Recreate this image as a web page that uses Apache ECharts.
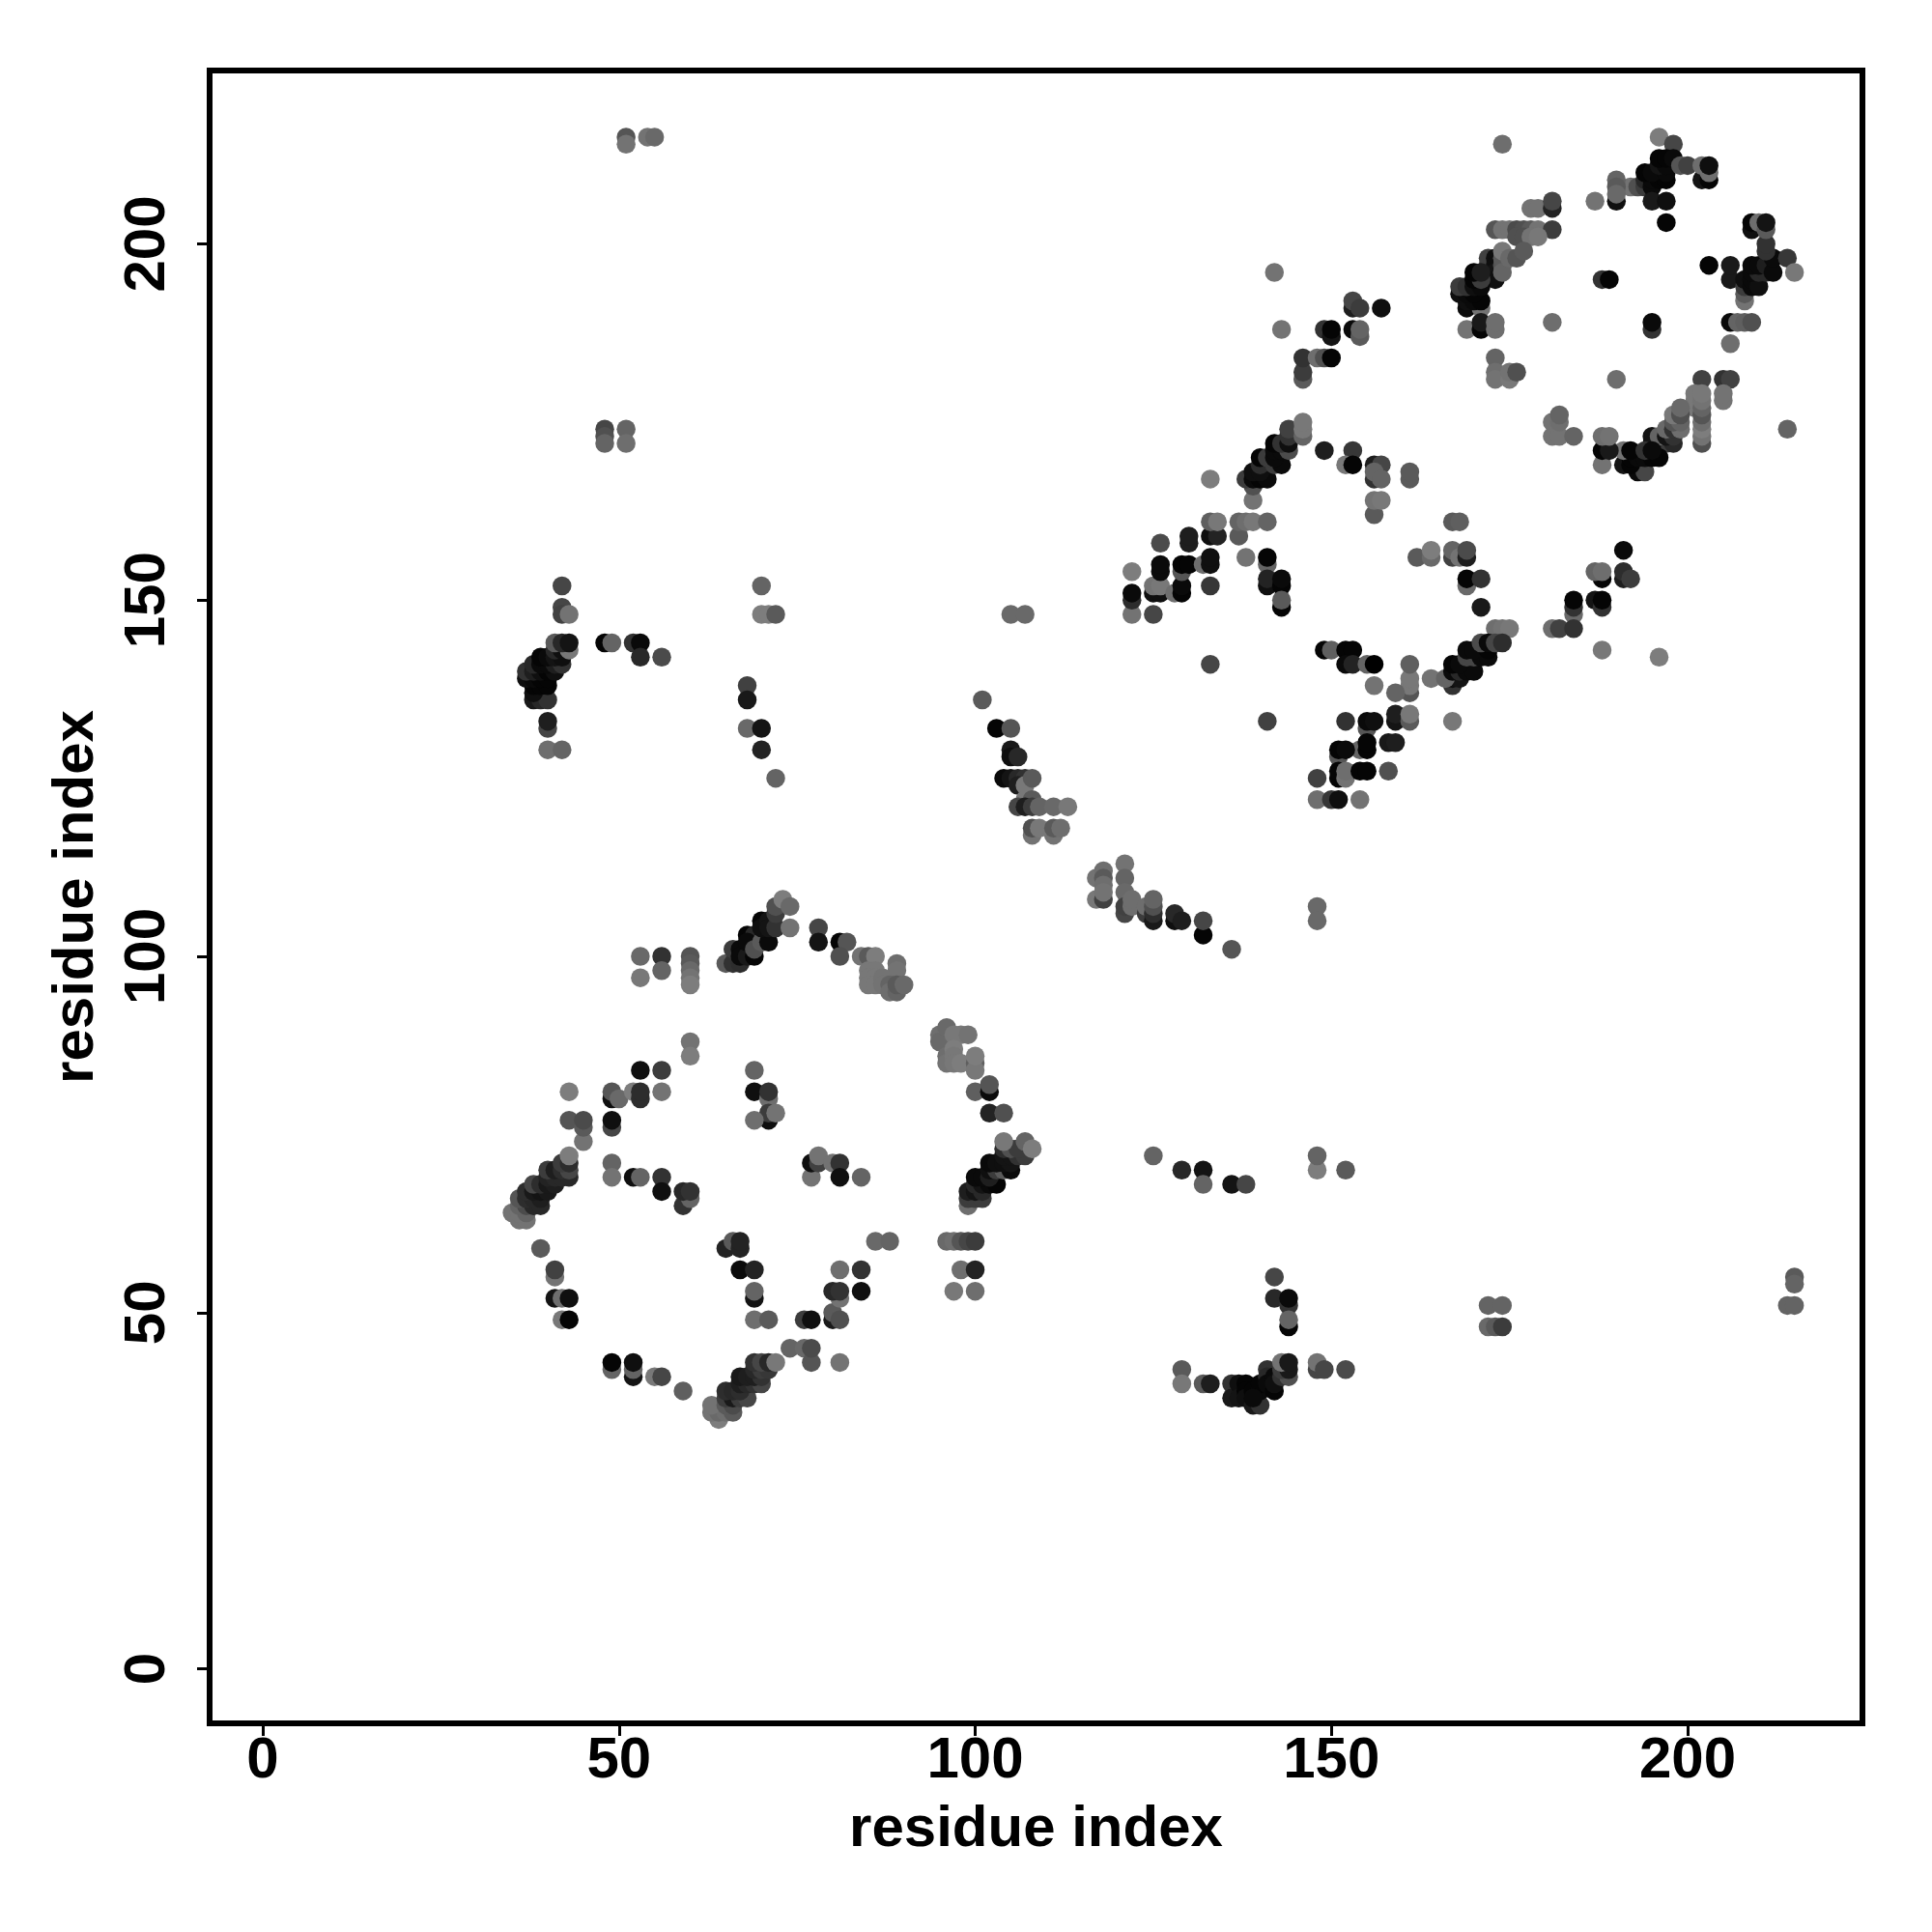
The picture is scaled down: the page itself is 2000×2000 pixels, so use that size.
<!DOCTYPE html>
<html><head><meta charset="utf-8">
<style>html,body{margin:0;padding:0;background:#fff}#c{width:2000px;height:2000px}</style>
<script src="https://cdn.jsdelivr.net/npm/echarts@6/dist/echarts.min.js"></script>
</head><body><div id="c"></div>
<script>
const tickValues = [0, 50, 100, 150, 200];
const axisName = 'residue index';
// every contact: [residue x, residue y, grey level]
const farContacts = [[51,215,85],[51,214,115],[54,215,115],[55,215,105],[48,174,70],[48,173,80],[48,172,100],[51,174,100],[51,172,110],
 [172,51,100],[174,51,100],[172,48,105],[173,48,90],[174,48,60],[215,55,90],[215,54,100],[214,51,100],[215,51,100],
 [188,143,120],[196,142,125],[174,214,110],[142,196,115],[143,188,115],[133,141,70],[148,107,105],[148,105,105]];
const leftArc = [[42,152,70],[70,152,100],[42,149,70],[42,148,65],[43,148,115],[70,148,125],[71,148,125],[72,148,90],
 [38,136,25],[39,136,40],[40,136,50],[38,137,15],[38,138,5],[39,138,5],[40,138,5],[37,139,15],[38,139,10],[39,139,5],[40,139,5],
 [37,140,50],[38,140,30],[39,140,15],[40,140,5],[41,140,15],[38,141,40],[39,141,10],[40,141,10],[41,141,30],[42,141,50],
 [40,132,70],[40,133,30],[40,129,110],[42,129,100],
 [39,142,5],[40,142,10],[41,142,20],[42,142,15],[41,143,40],[42,143,15],[43,143,120],[41,144,90],[42,144,40],[43,144,20],
 [48,144,5],[49,144,100],[52,144,50],[53,144,10],[53,142,40],[56,142,75],
 [68,138,65],[68,136,25],[68,132,105],[70,132,20],[70,129,35],[72,125,100]];
const upperRidge = [[65,99,90],[66,99,50],[67,99,45],[66,101,60],[67,101,10],[67,100,10],[68,100,25],[69,100,5],[68,103,5],[69,103,40],[68,102,10],[69,101,80],
 [70,102,90],[71,102,10],[70,105,5],[70,104,15],[71,105,20],[71,104,20],[72,104,50],[72,106,60],[72,107,80],[74,104,115],[73,108,125],[74,107,105],
 [78,104,70],[78,102,20],[81,102,5],[82,102,85],[81,100,80],[84,100,115],[85,100,90],[86,100,125],
 [89,99,110],[89,98,115],[85,98,120],[86,98,120],[85,97,120],[86,97,120],[85,96,120],[86,96,120],[87,97,115],[87,96,115],[88,96,100],[88,95,110],[89,95,100],[89,96,90],[90,96,105],
 [53,100,105],[56,100,50],[60,100,85],[60,99,90],[60,98,105],[60,97,115],[60,96,125],[53,97,120],[56,98,100]];
const diamondCenter = [[60,88,115],[60,86,125],[53,84,15],[56,84,60],[69,84,100],[43,81,125],[49,80,15],[49,81,85],[50,80,105],[52,81,125],[53,80,45],[53,81,45],[56,81,115],
 [69,81,15],[71,80,110],[71,81,50],[71,77,15],[71,78,60],[72,78,115],[69,77,110],[43,77,85],[45,74,115],[45,76,90],[45,77,75],[49,76,70],[49,77,15],
 [49,71,100],[49,69,115],[52,69,15],[53,69,100],[56,69,50],[56,67,15],[59,65,50],[60,66,100],[59,67,40],[60,67,50],
 [77,69,115],[77,71,15],[78,71,65],[78,72,115],[80,71,115],[81,71,50],[81,69,15],[84,69,100]];
const leftDiagonal = [[36,63,115],[37,63,115],[35,64,115],[36,64,115],[37,64,100],[36,65,100],[37,65,75],[38,65,40],[39,65,40],[36,66,85],[37,66,45],[38,66,40],[39,66,30],
 [37,67,45],[38,67,25],[39,67,20],[40,67,25],[38,68,70],[39,68,45],[40,68,25],[41,68,30],[40,69,35],[41,69,40],[42,69,40],[43,69,40],[40,70,60],[41,70,30],[42,70,45],[43,70,70],[42,71,60],[43,71,45],[43,72,125]];
const lowerLeft = [[39,59,90],[41,55,115],[41,56,65],[41,52,20],[42,52,110],[43,52,15],[42,49,120],[43,49,5],[49,42,100],[49,43,5],[52,41,20],[52,42,100],[52,43,15],[55,41,120],[56,41,70],[59,39,95],
 [65,59,35],[66,60,90],[67,59,35],[67,60,35],[67,56,10],[69,56,35],[69,52,20],[69,53,100],[69,49,110],[71,49,90],[76,49,60],[77,49,15],[80,49,25],[80,50,90],[81,49,80],[81,52,115],[80,53,40],[81,53,50],[81,56,110],[84,56,50],[84,53,15],
 [86,60,105],[88,60,100],[96,60,105],[97,60,110],[98,60,85],[99,60,70],[100,60,60],[98,56,110],[100,56,35],[97,53,120],[100,53,110]];
const lowerDiagonal = [[64,35,125],[63,36,115],[64,36,105],[65,36,110],[66,36,90],[63,37,115],[65,37,90],[66,37,75],[65,38,60],[66,38,25],[67,38,60],[68,38,70],[65,39,45],[66,39,40],[67,39,45],
 [67,40,30],[68,40,40],[69,40,50],[70,40,70],[67,41,25],[68,41,30],[69,41,30],[70,41,50],[69,42,40],[70,42,60],[71,42,55],[69,43,50],[70,43,70],[71,43,40],[72,43,120],
 [74,45,100],[76,45,105],[77,43,85],[77,45,75],[81,43,115]];
const rightOfDiamond = [[95,89,110],[95,88,105],[96,90,105],[96,86,110],[96,85,115],[97,89,120],[98,89,120],[99,89,115],[97,87,125],[97,86,120],[97,85,120],[98,85,125],[100,85,95],[100,84,120],[100,86,125],
 [100,81,95],[102,81,10],[102,82,85],[102,78,35],[104,78,80],
 [99,65,110],[99,66,60],[100,66,60],[101,66,60],[99,67,30],[100,67,20],[101,67,40],[100,68,40],[101,68,20],[102,68,10],[103,68,5],[100,69,10],[101,69,10],[102,69,30],[102,70,15],[103,70,60],[104,70,90],[105,70,10],
 [102,71,10],[103,71,15],[104,71,15],[105,71,20],[104,72,20],[105,72,20],[106,72,50],[107,72,60],[104,73,45],[105,73,80],[106,73,60],[104,74,120],[107,74,100],[108,73,125],
 [125,72,100],[129,70,40],[132,70,20],[132,68,100],[136,68,20],[138,68,70],[148,70,125],[148,72,100],[152,70,90]];
const lowerRight = [[142,55,70],[142,52,40],[144,51,50],[144,52,10],[144,48,5],[144,49,100],[129,42,90],[129,40,120],[132,40,90],[133,40,30],[136,40,50],[136,38,25],[137,40,15],[137,38,20],[138,40,5],[138,39,5],[138,38,15],[139,39,5],[139,37,25],[140,37,50],[140,39,10],[140,40,5],[139,38,10],
 [141,42,50],[141,41,40],[141,40,10],[142,41,10],[142,39,5],[142,40,15],[143,41,50],[144,41,80],[143,42,60],[144,42,25],[143,43,115],[144,43,25],[148,42,70],[148,43,115],[149,42,70],[152,42,75]];
const descendingBand = [[105,148,105],[107,148,105],[101,136,90],[103,132,5],[105,132,85],[105,129,25],[105,128,15],[106,128,40],[104,125,10],[105,125,20],[106,125,40],[107,125,50],[106,124,30],[107,124,120],[108,125,90],
 [107,122,120],[108,122,90],[106,121,70],[107,121,30],[108,121,60],[109,121,100],[111,121,105],[113,121,120],[108,117,115],[111,117,115],[108,118,80],[109,118,120],[111,118,90],[112,118,110],
 [121,113,115],[121,111,100],[121,109,105],[117,111,115],[118,112,110],[118,111,90],[118,110,110],[117,108,120],[118,108,65],[118,109,115],
 [121,106,70],[121,107,65],[122,107,110],[122,108,110],[124,106,60],[124,107,110],[125,105,25],[125,106,45],[125,107,80],[125,108,100],[128,105,15],[128,106,40],[129,105,30],[132,103,5],[132,105,70],[136,101,85]];
const middleSquare = [[122,148,115],[125,148,70],[122,150,45],[122,151,10],[122,154,125],[125,151,15],[126,151,15],[125,152,115],[126,152,120],[128,151,110],[129,151,5],[129,152,10],[126,154,10],[126,155,10],[129,154,85],[129,155,5],[130,155,5],[132,155,110],[133,155,15],[133,156,15],[133,152,55],[126,158,75],[130,158,30],[130,159,30],[133,159,15],[134,159,35],[133,161,95],[134,161,120],[133,167,125],
 [137,159,90],[137,161,100],[138,161,110],[139,161,120],[141,161,100],[138,156,115],[141,155,100],[141,156,5],[141,152,15],[141,153,35],[143,152,5],[143,153,10],[143,149,5],[143,150,90],
 [139,164,115],[139,166,80],[138,167,60],[139,167,10],[140,167,5],[141,167,10],[139,168,15],[140,168,15],[140,169,45],[142,169,60],[143,169,10],[140,170,5],[141,170,60],[142,170,10],[142,171,10],[143,171,10],[144,171,75],[142,172,5],[143,172,50],[144,172,15],[144,173,50],[144,174,65],[146,173,100],[146,174,120],[146,175,120],
 [149,171,30],[153,171,55],[152,169,120],[153,169,5],[156,169,30],[157,169,70],[156,167,50],[156,168,100],[157,167,100],[161,167,90],[161,168,90],[156,162,90],[156,164,115],[157,164,120],[167,161,90],[168,161,95],
 [162,156,90],[164,156,105],[164,157,125],[167,156,65],[167,157,100],[168,156,115],[169,156,30],[169,157,75],[169,152,105],[169,153,5],[171,153,50],[171,149,25]];
const middleRidge = [[173,146,110],[174,146,115],[175,146,120],[167,138,50],[167,139,15],[168,139,20],[164,139,115],[166,139,100],[167,140,10],[168,140,40],[169,140,10],[170,140,10],[167,141,5],[168,141,10],[169,142,70],[170,142,70],[171,142,10],[172,142,10],[169,143,10],[170,143,10],[172,143,5],[171,144,75],[172,144,10],[173,144,70],[174,144,45],
 [149,143,5],[150,143,95],[152,143,5],[153,143,5],[152,141,10],[153,141,35],[155,141,100],[156,141,0],[161,137,85],[161,138,120],[161,139,120],[161,141,95],[159,137,100],[156,138,115],[159,133,20],[159,134,30],[161,133,90],[161,134,120],[167,133,120],
 [141,133,65],[152,133,50],[155,132,85],[155,133,10],[156,133,15],[158,130,25],[159,130,30],[154,129,100],[155,129,5],[155,130,5],[151,128,85],[151,129,5],[152,129,10],
 [151,125,5],[151,126,5],[152,125,115],[152,126,110],[154,126,5],[155,126,5],[158,126,80],[148,125,65],[148,122,110],[150,122,55],[151,122,15],[154,122,115]];
const connector = [[153,191,30],[153,192,70],[154,191,60],[157,191,15],[149,188,50],[150,187,20],[150,188,5],[153,188,10],[154,187,90],[154,188,100],[146,181,90],[146,182,60],[146,184,50],[148,184,110],[149,184,80],[150,184,5],
 [191,157,10],[191,153,30],[191,154,45],[192,153,60],[188,153,5],[187,154,100],[188,154,110],[184,148,105],[184,149,50],[184,150,5],[187,150,20],[188,149,50],[188,150,5],[181,146,110],[182,146,65],[184,146,50]];
const upperSquare = [[196,215,125],[198,214,70],[192,208,115],[193,208,80],[194,208,60],[194,209,40],[195,208,10],[195,209,10],[196,209,5],[197,209,5],[194,210,5],[195,210,10],[197,210,10],[196,211,20],[197,211,10],[196,212,5],[197,212,5],[198,212,10],[199,211,85],[200,211,65],
 [202,209,20],[203,209,5],[203,210,110],[202,211,110],[203,211,15],[195,206,25],[197,206,15],[197,203,5],[190,209,100],[190,208,90],[190,206,15],[190,207,105],[187,206,115],
 [178,205,115],[179,205,115],[181,205,35],[181,206,70],[173,202,85],[174,202,115],[175,202,115],[176,202,75],[177,202,80],[178,202,90],[179,202,115],[181,202,60],[176,201,80],[177,201,80],[178,201,115],[179,201,120],
 [172,197,60],[172,198,65],[173,198,15],[173,197,15],[173,196,20],[173,195,15],[174,197,85],[174,198,90],[174,196,100],[174,199,120],[175,198,105],[176,198,85],[177,199,90],
 [169,191,10],[171,191,115],[169,192,15],[170,192,10],[171,192,5],[168,193,15],[169,193,10],[170,193,5],[168,194,60],[169,194,50],[170,194,15],[171,194,10],[170,195,5],[171,195,60],[170,196,5],[171,196,30],
 [169,188,115],[171,188,5],[171,189,25],[173,188,110],[173,189,110],[173,184,100],[173,182,110],[173,181,115],[175,181,120],[175,182,115],[176,182,80],[181,189,110],[190,181,110],[188,195,50],[189,195,5],[195,188,50],[195,189,10]];
const upperRight = [[203,197,5],[206,195,25],[206,197,25],[208,192,115],[208,193,90],[208,194,60],[208,195,15],[209,194,10],[209,195,10],[210,194,15],[209,196,10],[210,196,40],[211,196,40],[209,197,10],[210,197,10],[211,197,30],[212,196,10],[212,198,10],[211,199,50],[211,200,50],[214,198,55],[215,196,120],
 [209,202,15],[209,203,5],[210,203,110],[211,202,90],[211,203,20],[206,189,10],[207,189,100],[208,189,95],[209,189,80],[206,186,110],
 [202,181,65],[205,181,50],[206,181,65],[205,178,115],[205,179,115],[201,177,120],[201,178,120],[201,179,120],[202,172,80],[202,173,115],[202,174,125],[202,175,110],[202,176,85],[202,177,100],[202,178,115],[202,179,120],
 [196,172,55],[197,172,60],[198,172,40],[195,172,10],[195,173,20],[196,173,100],[197,173,20],[198,173,50],[197,174,105],[198,174,50],[199,174,110],[198,175,85],[199,175,100],[198,176,120],[199,176,80],[199,177,105],
 [193,168,10],[194,168,70],[191,169,20],[192,169,5],[192,170,5],[193,170,10],[194,170,10],[195,170,5],[196,170,5],[191,171,115],[192,171,5],[194,171,50],[195,171,10],
 [188,169,115],[188,171,5],[189,171,25],[188,173,110],[189,173,115],[181,173,115],[182,173,115],[184,173,100],[181,175,115],[182,175,110],[182,176,100],[214,174,100]];

const contacts = [].concat(farContacts, leftArc, upperRidge, diamondCenter, leftDiagonal, lowerLeft, lowerDiagonal,
  rightOfDiamond, lowerRight, descendingBand, middleSquare, middleRidge, connector, upperSquare, upperRight);

const font = {color:'#000', fontFamily:'"Liberation Sans",Arial,sans-serif', fontWeight:'bold', fontSize:60};
const chart = echarts.init(document.getElementById('c'), null, {renderer:'canvas', width:2000, height:2000});
chart.setOption({
  animation:false,
  backgroundColor:'#fff',
  grid:{left:217, top:73, width:1711, height:1711, show:true, borderColor:'#000', borderWidth:6, backgroundColor:'#fff'},
  visualMap:{show:false, type:'continuous', dimension:2, min:0, max:128, inRange:{color:['#000000','#808080']}},
  xAxis:{type:'value', min:-7.46, max:224.54, name:axisName, nameLocation:'middle', nameGap:80,
    nameTextStyle:font, splitLine:{show:false}, axisLine:{show:false, onZero:false},
    axisTick:{show:true, length:13, lineStyle:{color:'#000', width:3}, customValues:tickValues},
    axisLabel:Object.assign({margin:9, customValues:tickValues}, font)},
  yAxis:{type:'value', min:-7.66, max:224.34, name:axisName, nameLocation:'middle', nameGap:108, nameRotate:90,
    nameTextStyle:font, splitLine:{show:false}, axisLine:{show:false, onZero:false},
    axisTick:{show:true, length:13, lineStyle:{color:'#000', width:3}, customValues:tickValues},
    axisLabel:Object.assign({margin:64, rotate:90, customValues:tickValues, align:'center', verticalAlign:'middle'}, font)},
  series:[{type:'scatter', symbol:'circle', symbolSize:19.5, data:contacts, clip:false, itemStyle:{opacity:1}, large:false}]
});
</script></body></html>
